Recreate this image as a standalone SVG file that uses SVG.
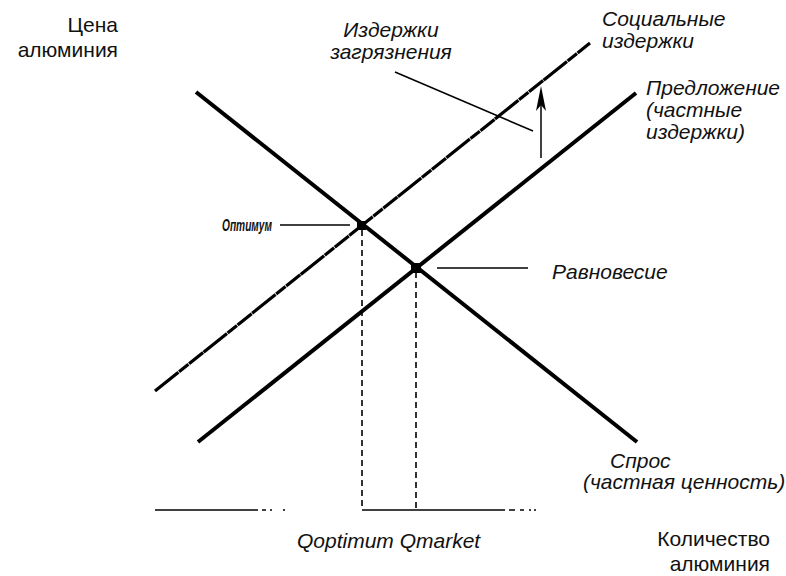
<svg xmlns="http://www.w3.org/2000/svg" width="786" height="576" viewBox="0 0 786 576">
  <style>
    .lbl { font-family: "Liberation Sans", Arial, sans-serif; font-size: 21px; fill: #111; }
    .it { font-style: italic; }
    .small { font-size: 17px; font-weight: bold; }
    .thick { stroke: #000; stroke-width: 4; fill: none; stroke-linecap: butt; }
    .social { stroke: #000; stroke-width: 3.2; fill: none; stroke-dasharray: 30 0.8 12 0.8 18 0.6; }
    .thin { stroke: #000; stroke-width: 1.5; fill: none; }
    .dash { stroke: #000; stroke-width: 1.6; fill: none; stroke-dasharray: 6 4; }
  </style>
  <rect width="786" height="576" fill="#fff"/>

  <g id="axes">
    <line class="thin" x1="155" y1="510" x2="258" y2="510"/>
    <line class="thin" x1="262" y1="510" x2="266" y2="510"/>
    <line class="thin" x1="270" y1="510" x2="272" y2="510"/>
    <line class="thin" x1="283" y1="510" x2="285" y2="510"/>
    <line class="thin" x1="362" y1="510" x2="505" y2="510"/>
    <line class="thin" x1="509" y1="510" x2="515" y2="510"/>
    <line class="thin" x1="520" y1="510" x2="524" y2="510"/>
    <line class="thin" x1="529" y1="510" x2="531" y2="510"/>
    <line class="thin" x1="534" y1="510" x2="536" y2="510"/>
  </g>

  <g id="curves">
    <line id="demand" class="thick" x1="196" y1="92" x2="637" y2="442"/>
    <line id="supply" class="thick" x1="198" y1="442" x2="636" y2="93"/>
    <line id="social-cost" class="social" x1="155" y1="391" x2="590" y2="43"/>
  </g>

  <g id="connectors">
    <line class="dash" x1="362" y1="230" x2="362" y2="510"/>
    <line class="dash" x1="416" y1="272" x2="416" y2="510"/>
    <line class="thin" x1="395" y1="72" x2="533" y2="131"/>
    <line class="thin" x1="541" y1="158" x2="541" y2="102"/>
    <polygon points="541,86 546,111 541,105 536,111" fill="#000"/>
    <line class="thin" x1="280" y1="225" x2="350" y2="225"/>
    <line class="thin" x1="437" y1="268" x2="528" y2="268"/>
  </g>

  <g id="optimum">
    <rect x="357" y="221" width="9" height="9" fill="#000"/>
    <text class="lbl it small" x="222" y="231" textLength="50" lengthAdjust="spacingAndGlyphs">Оптимум</text>
  </g>
  <g id="equilibrium">
    <rect x="411" y="263" width="10" height="10" fill="#000"/>
    <text class="lbl it" x="552" y="279">Равновесие</text>
  </g>

  <g id="price-label">
    <text class="lbl" x="118" y="32" text-anchor="end">Цена</text>
    <text class="lbl" x="118" y="57" text-anchor="end">алюминия</text>
  </g>
  <g id="quantity-label">
    <text class="lbl" x="770" y="546" text-anchor="end">Количество</text>
    <text class="lbl" x="770" y="571" text-anchor="end">алюминия</text>
  </g>
  <g id="pollution-label">
    <text class="lbl it" x="391" y="37" text-anchor="middle">Издержки</text>
    <text class="lbl it" x="391" y="59" text-anchor="middle">загрязнения</text>
  </g>
  <g id="social-label">
    <text class="lbl it" x="602" y="26">Социальные</text>
    <text class="lbl it" x="602" y="48">издержки</text>
  </g>
  <g id="supply-label">
    <text class="lbl it" x="646" y="95">Предложение</text>
    <text class="lbl it" x="646" y="117">(частные</text>
    <text class="lbl it" x="646" y="139">издержки)</text>
  </g>
  <g id="demand-label">
    <text class="lbl it" x="610" y="468">Спрос</text>
    <text class="lbl it" x="583" y="489">(частная ценность)</text>
  </g>
  <g id="q-labels">
    <text class="lbl it" x="297" y="548">Qoptimum Qmarket</text>
  </g>
</svg>
